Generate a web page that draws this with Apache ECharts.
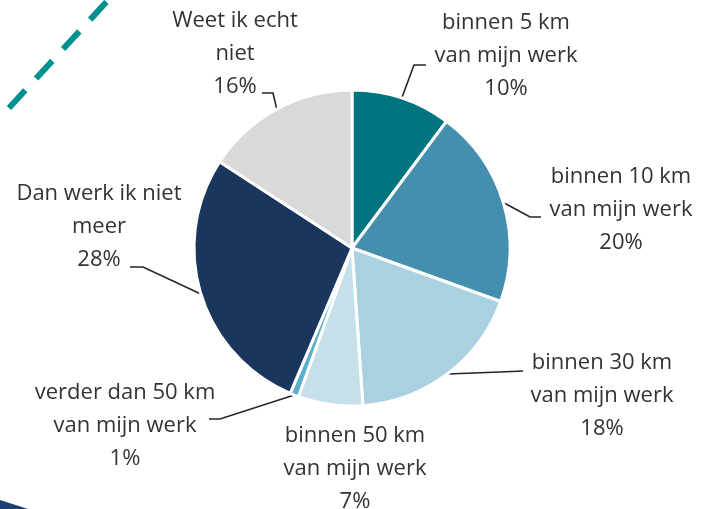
<!DOCTYPE html>
<html>
<head>
<meta charset="utf-8">
<script src="https://cdn.jsdelivr.net/npm/echarts@6/dist/echarts.min.js"></script>
<style>
    html, body { margin: 0; padding: 0; background: #fff; }
    #main { width: 704px; height: 509px; }
</style>
</head>
<body>
<div id="main"></div>
<script>
// categories and shares (percent)
var categories = [
    'binnen 5 km\nvan mijn werk',
    'binnen 10 km\nvan mijn werk',
    'binnen 30 km\nvan mijn werk',
    'binnen 50 km\nvan mijn werk',
    'verder dan 50 km\nvan mijn werk',
    'Dan werk ik niet\nmeer',
    'Weet ik echt\nniet'
];
var shares = [10.2, 20.3, 18.4, 6.6, 0.9, 27.8, 15.8];
var colors = ['#01757f', '#438fad', '#aad1df', '#c6e0ea', '#5eaecb', '#1b365d', '#d9d9d9'];

// label centre and elbow of the leader line, per slice
var labelPos = [[506, 56], [621, 210], [602, 396], [355, 469], [125, 426], [99, 227], [235, 54]];
var elbows = [
    [[414, 65], [426, 65]],
    [[530, 217], [541, 217]],
    [[500, 372], [523, 371]],
    null,
    [[220, 419], [209, 419]],
    [[143, 267], [130, 267]],
    [[273, 93], [262, 93]]
];

var myChart = echarts.init(document.getElementById('main'));

var data = categories.map(function (name, i) {
    return {
        name: name,
        value: shares[i],
        itemStyle: { color: colors[i] },
        labelLine: { show: elbows[i] !== null }
    };
});

var option = {
    animation: false,
    graphic: [
        {
            type: 'line',
            shape: { x1: 9, y1: 108, x2: 110, y2: -2 },
            style: { stroke: '#00918f', lineWidth: 6, lineDash: [24, 16] }
        },
        {
            type: 'polygon',
            shape: { points: [[0, 500], [28, 509], [0, 509]] },
            style: { fill: '#1b4070' }
        }
    ],
    series: [
        {
            type: 'pie',
            center: [352, 248],
            radius: 158,
            startAngle: 90,
            clockwise: true,
            data: data,
            itemStyle: { borderColor: '#fff', borderWidth: 3 },
            label: {
                show: true,
                fontFamily: 'Open Sans',
                fontSize: 22,
                lineHeight: 33,
                color: '#333333',
                align: 'center',
                overflow: 'none',
                formatter: function (p) {
                    return p.name + '\n' + Math.round(p.value) + '%';
                }
            },
            labelLine: {
                show: true,
                lineStyle: { color: '#262626', width: 1.6 }
            },
            labelLayout: function (params) {
                var i = params.dataIndex;
                var res = {
                    x: labelPos[i][0],
                    y: labelPos[i][1],
                    align: 'center',
                    verticalAlign: 'middle'
                };
                if (elbows[i] && params.labelLinePoints) {
                    res.labelLinePoints = [params.labelLinePoints[0], elbows[i][0], elbows[i][1]];
                }
                return res;
            }
        }
    ]
};

myChart.setOption(option);
</script>
</body>
</html>
